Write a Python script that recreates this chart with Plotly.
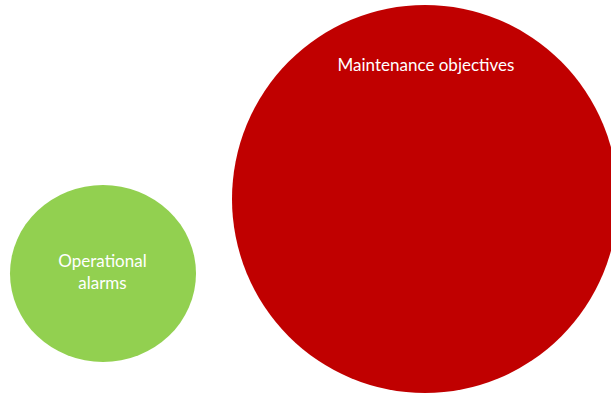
import plotly.graph_objects as go

# Data
labels = ["Operational<br>alarms", "Maintenance objectives"]
center_x = [103, 425]
center_y = [273.5, 199]
radius_x = [93, 193]
radius_y = [88.5, 194]
label_x = [102.5, 426]
label_y = [274, 67]
colors = ["#92D050", "#C00000"]

fig = go.Figure()

for cx, cy, rx, ry, col in zip(center_x, center_y, radius_x, radius_y, colors):
    fig.add_shape(type="circle", xref="x", yref="y",
                  x0=cx - rx, x1=cx + rx, y0=cy - ry, y1=cy + ry,
                  fillcolor=col, line=dict(width=0), layer="below")

fig.add_trace(go.Scatter(
    x=label_x, y=label_y, text=labels, mode="text",
    textposition="middle center",
    textfont=dict(family="Lato", size=17, color="white"),
    hoverinfo="skip", showlegend=False,
))

fig.update_xaxes(range=[0, 611], visible=False, fixedrange=True)
fig.update_yaxes(range=[394, 0], visible=False, fixedrange=True)
fig.update_layout(
    width=611, height=394,
    margin=dict(l=0, r=0, t=0, b=0),
    paper_bgcolor="white", plot_bgcolor="white",
)

fig.write_html("out.html", config={"displayModeBar": False},
               post_script="document.body.style.margin='0';document.body.style.overflow='hidden';")
